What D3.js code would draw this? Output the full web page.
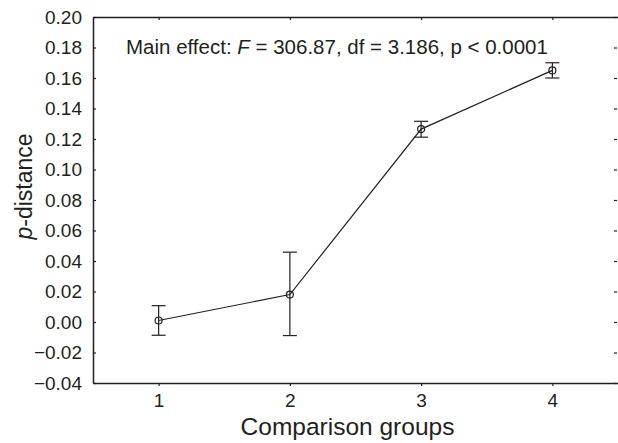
<!DOCTYPE html>
<html>
<head>
<meta charset="utf-8">
<script src="https://cdn.jsdelivr.net/npm/d3@7"></script>
<style>
  html, body { margin: 0; padding: 0; background: #fff; }
  svg { display: block; }
  text { font-family: "Liberation Sans", Arial, Helvetica, sans-serif; fill: #231f20; }
</style>
</head>
<body>
<svg id="chart" width="618" height="443"></svg>
<script>
// ---- data ----
const groups = [1, 2, 3, 4];
const means  = [0.001, 0.018, 0.1265, 0.165];
const upper  = [0.0107, 0.0458, 0.1316, 0.170];
const lower  = [-0.0087, -0.0089, 0.1212, 0.160];
const yTicks = [-0.04, -0.02, 0.00, 0.02, 0.04, 0.06, 0.08, 0.10, 0.12, 0.14, 0.16, 0.18, 0.20];
const xLabel = "Comparison groups";
const yLabelItalic = "p";
const yLabelRest = "-distance";
const annotationParts = [
  { t: "Main effect: ", i: false },
  { t: "F", i: true },
  { t: " = 306.87, df = 3.186, p < 0.0001", i: false }
];

// ---- layout ----
const svg = d3.select("#chart");
const mLeft = 93, mRight = 618, mTop = 17, mBottom = 383;
const ink = "#231f20";

const x = d3.scaleLinear().domain([0.5, 4.5]).range([mLeft, mRight]);
const y = d3.scaleLinear().domain([-0.04, 0.20]).range([mBottom, mTop]);

const fmt = v => {
  const s = d3.format(".2f")(Math.abs(v));
  return (v < -1e-9 ? "\u2212" : "") + s;
};

// left axis
const yAxis = d3.axisLeft(y).tickValues(yTicks).tickFormat(fmt).tickSizeInner(-3).tickSizeOuter(0).tickPadding(11);
const gy = svg.append("g").attr("transform", `translate(${mLeft},0)`).call(yAxis);
gy.select(".domain").attr("stroke", ink).attr("stroke-width", 1.5);
gy.selectAll(".tick line").attr("stroke", ink).attr("stroke-width", 1.2);
gy.selectAll(".tick text").style("font-size", "19px").attr("fill", ink)
  .style("font-family", '"Liberation Sans", Arial, sans-serif');

// right ticks (no domain line)
const yAxisR = d3.axisRight(y).tickValues(yTicks).tickFormat("").tickSizeInner(-3).tickSizeOuter(0);
const gyr = svg.append("g").attr("transform", `translate(${mRight - 1},0)`).call(yAxisR);
gyr.select(".domain").remove();
gyr.selectAll(".tick line").attr("stroke", ink).attr("stroke-width", 1.2);

// bottom axis
const xAxis = d3.axisBottom(x).tickValues(groups).tickFormat(d3.format("d")).tickSizeInner(3).tickSizeOuter(0).tickPadding(8);
const gx = svg.append("g").attr("transform", `translate(0,${mBottom})`).call(xAxis);
gx.select(".domain").attr("stroke", ink).attr("stroke-width", 1.5);
gx.selectAll(".tick line").attr("stroke", ink).attr("stroke-width", 1.2);
gx.selectAll(".tick text").style("font-size", "19px").attr("fill", ink)
  .style("font-family", '"Liberation Sans", Arial, sans-serif');

// top axis
const xAxisT = d3.axisTop(x).tickValues(groups).tickFormat("").tickSizeInner(-3).tickSizeOuter(0);
const gxt = svg.append("g").attr("transform", `translate(0,${mTop})`).call(xAxisT);
gxt.select(".domain").attr("stroke", ink).attr("stroke-width", 1.5);
gxt.selectAll(".tick line").attr("stroke", ink).attr("stroke-width", 1.2);

// line
const pts = groups.map((g, i) => ({ g, m: means[i], hi: upper[i], lo: lower[i] }));
svg.append("path")
  .datum(pts)
  .attr("fill", "none")
  .attr("stroke", ink)
  .attr("stroke-width", 1.2)
  .attr("d", d3.line().x(d => x(d.g)).y(d => y(d.m)));

// error bars
const eb = svg.append("g").selectAll("g").data(pts).join("g");
eb.append("line")
  .attr("x1", d => x(d.g)).attr("x2", d => x(d.g))
  .attr("y1", d => y(d.hi)).attr("y2", d => y(d.lo))
  .attr("stroke", ink).attr("stroke-width", 1.2);
eb.append("line")
  .attr("x1", d => x(d.g) - 7).attr("x2", d => x(d.g) + 7)
  .attr("y1", d => y(d.hi)).attr("y2", d => y(d.hi))
  .attr("stroke", ink).attr("stroke-width", 1.2);
eb.append("line")
  .attr("x1", d => x(d.g) - 7).attr("x2", d => x(d.g) + 7)
  .attr("y1", d => y(d.lo)).attr("y2", d => y(d.lo))
  .attr("stroke", ink).attr("stroke-width", 1.2);
eb.append("circle")
  .attr("cx", d => x(d.g)).attr("cy", d => y(d.m)).attr("r", 3.5)
  .attr("fill", "none").attr("stroke", ink).attr("stroke-width", 1.2);

// annotation
const ann = svg.append("text").attr("x", 126).attr("y", 54).style("font-size", "20.5px");
ann.selectAll("tspan").data(annotationParts).join("tspan")
  .style("font-style", d => d.i ? "italic" : "normal")
  .text(d => d.t);

// x title
svg.append("text")
  .attr("x", 347.5).attr("y", 435)
  .attr("text-anchor", "middle")
  .style("font-size", "24.5px")
  .text(xLabel);

// y title
const yt = svg.append("text")
  .attr("transform", `translate(32,186.5) rotate(-90)`)
  .attr("text-anchor", "middle")
  .style("font-size", "23px");
yt.append("tspan").style("font-style", "italic").text(yLabelItalic);
yt.append("tspan").text(yLabelRest);
</script>
</body>
</html>
